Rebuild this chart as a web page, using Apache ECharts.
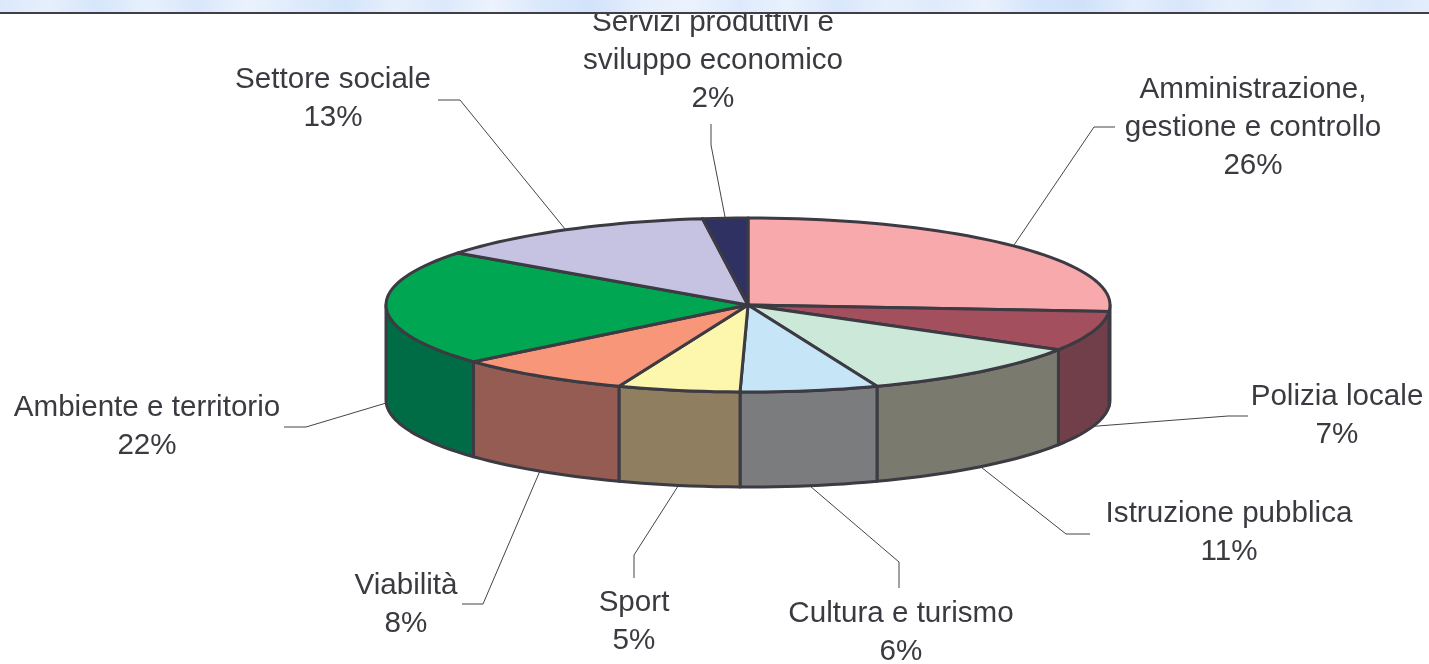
<!DOCTYPE html>
<html>
<head>
<meta charset="utf-8">
<title>Spesa per funzione</title>
<script src="https://cdn.jsdelivr.net/npm/echarts@6/dist/echarts.min.js"></script>
<style>
  html, body { margin: 0; padding: 0; background: #fff; }
  #chart { width: 1429px; height: 664px; }
</style>
</head>
<body>
<div id="chart"></div>
<script>
const categories = [
  "Amministrazione,\ngestione e controllo",
  "Polizia locale",
  "Istruzione pubblica",
  "Cultura e turismo",
  "Sport",
  "Viabilità",
  "Ambiente e territorio",
  "Settore sociale",
  "Servizi produttivi e\nsviluppo economico",
];
const shares = [26.2, 7.4, 10.6, 6.15, 5.45, 7.9, 21.5, 12.8, 2];

const topColors = ["#f8a9ac", "#a44f5e", "#cce8d8", "#c6e6f8", "#fdf6ad", "#f79678", "#00a651", "#c6c3e2", "#2e3161"];
const wallColors = ["#7b4450", "#713f4a", "#7a7a6e", "#7b7c7e", "#8f7f60", "#945c52", "#006c45", "#6f6d85", "#1e2040"];

// label centre and the elbow of each leader line, in page pixels
const labelCenters = [[1253, 126], [1337, 414], [1229, 531], [901, 631], [634, 620], [406, 603], [147, 425], [333, 97], [713, 59]];
const leaderElbows = [
  [[1094, 127], [1115, 127]],
  [[1228, 416], [1248, 416]],
  [[1066, 534], [1090, 534]],
  [[899, 562], [899, 588]],
  [[634, 555], [634, 578]],
  [[483, 604], [462, 604]],
  [[306, 427], [284, 427]],
  [[460, 100], [438, 100]],
  [[711, 145], [711, 124]],
];

const stripStops = [
  "#dbe8fb", "#e6effc", "#d6e6fb", "#e8f0fc", "#d9e7fb", "#ebf2fd", "#dfebfc", "#d4e5fa",
  "#e6effc", "#dce9fb", "#edf3fd", "#dae8fb", "#d2e3fa", "#e5eefc", "#ebf2fd", "#deeafc",
  "#e9f1fd", "#d9e7fb", "#e6effc", "#dfeafb", "#eaf1fd", "#d5e5fb", "#d0e2fa", "#e3edfc",
  "#d8e6fb", "#e7effc", "#ddeafb", "#e6effc", "#dae8fb", "#e3edfc",
];

const CX = 748, CY = 305, RX = 362, RY = 87, DEPTH = 95;
const EDGE = "#3c3a42";
const TEXT = "#3a3a40";

const total = shares.reduce((a, b) => a + b, 0);
const startAngles = shares.map((_, i) => shares.slice(0, i).reduce((a, b) => a + b, 0) / total * 360);

// clockwise from 12 o'clock, squashed onto the tilted disc
const rimPoint = (deg, dy = 0) => {
  const r = deg * Math.PI / 180;
  return [CX + Math.sin(r) * RX, CY - Math.cos(r) * RY + dy];
};

const arc = (from, to, dy = 0) => {
  const pts = [];
  const steps = Math.max(2, Math.ceil((to - from) / 2));
  for (let k = 0; k <= steps; k++) pts.push(rimPoint(from + (to - from) * k / steps, dy));
  return pts;
};

const sliceRange = (api) => {
  const i = api.value(0);
  const from = startAngles[i];
  return { i, from, to: from + api.value(1) / total * 360 };
};

const renderWall = (params, api) => {
  const { i, from, to } = sliceRange(api);
  const a = Math.max(from, 90);
  const b = Math.min(to, 270);
  if (b <= a) return null;
  return {
    type: "polygon",
    shape: { points: [...arc(a, b), ...arc(a, b, DEPTH).reverse()] },
    style: { fill: wallColors[i], stroke: EDGE, lineWidth: 3, lineJoin: "round" },
  };
};

const renderTop = (params, api) => {
  const { i, from, to } = sliceRange(api);
  return {
    type: "polygon",
    shape: { points: [[CX, CY], ...arc(from, to)] },
    style: { fill: topColors[i], stroke: EDGE, lineWidth: 3, lineJoin: "round" },
  };
};

const renderLabel = (params, api) => {
  const { i, from, to } = sliceRange(api);
  const mid = (from + to) / 2;
  const anchor = rimPoint(mid, mid > 90 && mid < 270 ? DEPTH : 0);
  const [x, y] = labelCenters[i];
  return {
    type: "group",
    children: [
      {
        type: "polyline",
        shape: { points: [anchor, ...leaderElbows[i]] },
        style: { fill: "none", stroke: "#45454a", lineWidth: 1 },
      },
      {
        type: "text",
        x,
        y: y + 2,
        style: {
          text: `${categories[i]}\n${Math.round(api.value(1))}%`,
          align: "center",
          verticalAlign: "middle",
          fill: TEXT,
          font: '29.6px "Liberation Sans", Arial, sans-serif',
          lineHeight: 38,
        },
      },
    ],
  };
};

const sliceData = shares.map((v, i) => [i, v]);
const sliceSeries = (renderItem, z) => ({
  type: "custom",
  coordinateSystem: "none",
  renderItem,
  data: sliceData,
  z,
  silent: true,
  clip: false,
});

const chart = echarts.init(document.getElementById("chart"), null, { renderer: "canvas" });
chart.setOption({
  backgroundColor: "#fff",
  animation: false,
  graphic: [
    {
      type: "rect",
      z: 100,
      shape: { x: 0, y: 0, width: 1429, height: 12 },
      style: {
        fill: new echarts.graphic.LinearGradient(0, 0, 1, 0,
          stripStops.map((color, i) => ({ offset: i / (stripStops.length - 1), color }))),
      },
    },
    {
      type: "rect",
      z: 101,
      shape: { x: 0, y: 12, width: 1429, height: 2 },
      style: { fill: "#3f3f47" },
    },
  ],
  series: [
    sliceSeries(renderLabel, 1),
    sliceSeries(renderWall, 2),
    sliceSeries(renderTop, 3),
  ],
});
</script>
</body>
</html>
